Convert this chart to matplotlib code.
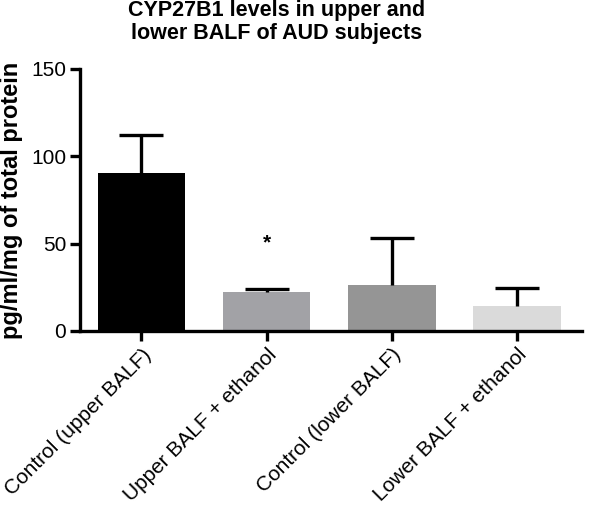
import matplotlib
matplotlib.use("Agg")
import matplotlib.pyplot as plt

categories = ["Control (upper BALF)", "Upper BALF + ethanol",
              "Control (lower BALF)", "Lower BALF + ethanol"]
means = [90.6, 22.1, 26.1, 14.3]
errors = [21.7, 2.1, 27.3, 10.5]
colors = ["#000000", "#a2a2a6", "#959595", "#dadada"]
yticks = [0, 50, 100, 150]

plt.rcParams['font.family'] = ['Liberation Sans', 'DejaVu Sans']

fig = plt.figure(figsize=(6.1, 5.18), dpi=100)
ax = fig.add_axes([80/610, 1-331/518, (582-80)/610, (331-69)/518])

x = list(range(len(categories)))
ax.bar(x, means, width=0.7, color=colors, zorder=2)
ax.errorbar(x, means, yerr=[[0]*len(errors), errors], fmt='none',
            ecolor='black', elinewidth=2.4, capsize=0, zorder=3)
tops = [m + e for m, e in zip(means, errors)]
ax.plot(x, tops, ls='none', marker='_', markersize=32, mew=2.4, color='black', zorder=3)

ax.text(1, 50.5, "*", ha='center', va='center', fontsize=15, fontweight='bold', color='black')

ax.set_xlim(-0.49, 3.52)
ax.set_ylim(0, 150)
ax.set_yticks(yticks)
ax.set_yticklabels([str(t) for t in yticks], fontsize=15)
ax.set_xticks(x)
ax.set_xticklabels(categories, rotation=45, ha='right', rotation_mode='anchor', fontsize=15)

for s in ['top', 'right']:
    ax.spines[s].set_visible(False)
for s in ['left', 'bottom']:
    ax.spines[s].set_linewidth(2.4)
ax.tick_params(axis='both', width=2.4, length=7, direction='out', pad=3)

ax.set_ylabel("pg/ml/mg of total protein", fontsize=17, fontweight='bold', labelpad=6)

fig.text(277/610, 1-22/518, "CYP27B1 levels in upper and\nlower BALF of AUD subjects",
         ha='center', va='center', fontsize=15.5, fontweight='bold', linespacing=1.15)

fig.savefig("out.png", dpi=100)
